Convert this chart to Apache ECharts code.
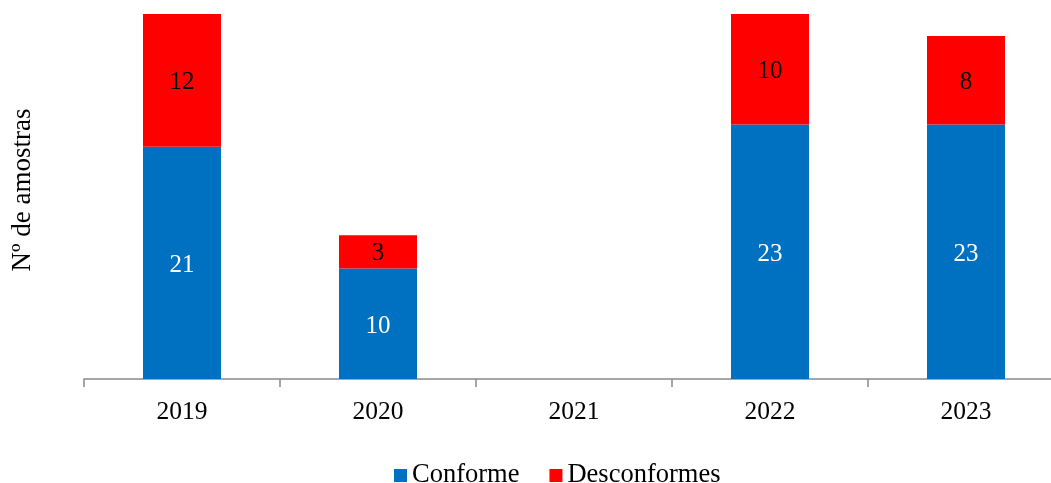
<!DOCTYPE html>
<html><head><meta charset="utf-8">
<script src="https://cdn.jsdelivr.net/npm/echarts@6/dist/echarts.min.js"></script>
<style>html,body{margin:0;padding:0;background:#fff}#c{width:1051px;height:483px}</style>
</head><body><div id="c"></div>
<script>
const categories = ['2019', '2020', '2021', '2022', '2023'];
const conforme = [21, 10, null, 23, 23];
const desconformes = [12, 3, null, 10, 8];
const yAxisName = 'Nº de amostras';

const font = 'Liberation Serif, Times New Roman, serif';
const chart = echarts.init(document.getElementById('c'));
chart.setOption({
  animation: false,
  textStyle: { fontFamily: font },
  grid: { left: 84, width: 980, top: 14, height: 365, outerBoundsMode: 'none', containLabel: false },
  legend: {
    bottom: -6, left: 394, padding: 0, itemWidth: 13, itemHeight: 13, itemGap: 30,
    icon: 'rect',
    textStyle: { fontFamily: font, fontSize: 26.5, color: '#000' }
  },
  graphic: [{
    type: 'text', x: 23, y: 190, rotation: Math.PI / 2,
    style: { text: yAxisName, font: '27px ' + font, fill: '#000', align: 'center', verticalAlign: 'middle' }
  }],
  xAxis: {
    type: 'category', data: categories,
    axisLine: { lineStyle: { color: '#898989', width: 1.5 } },
    axisTick: { show: true, length: 8, lineStyle: { color: '#898989', width: 1.5 } },
    axisLabel: { fontFamily: font, fontSize: 25.5, color: '#000', margin: 20 }
  },
  yAxis: {
    type: 'value', min: 0, max: 33,
    axisLine: { show: false }, axisTick: { show: false },
    axisLabel: { show: false }, splitLine: { show: false }
  },
  series: [
    {
      name: 'Conforme', type: 'bar', stack: 's', data: conforme,
      barWidth: '39.8%', itemStyle: { color: '#0070C0' },
      label: { show: true, position: 'inside', color: '#fff', fontFamily: font, fontSize: 25, offset: [0, 3] }
    },
    {
      name: 'Desconformes', type: 'bar', stack: 's', data: desconformes,
      barWidth: '39.8%', itemStyle: { color: '#FF0000' },
      label: { show: true, position: 'inside', color: '#000', fontFamily: font, fontSize: 25, offset: [0, 2] }
    }
  ]
});
</script></body></html>
